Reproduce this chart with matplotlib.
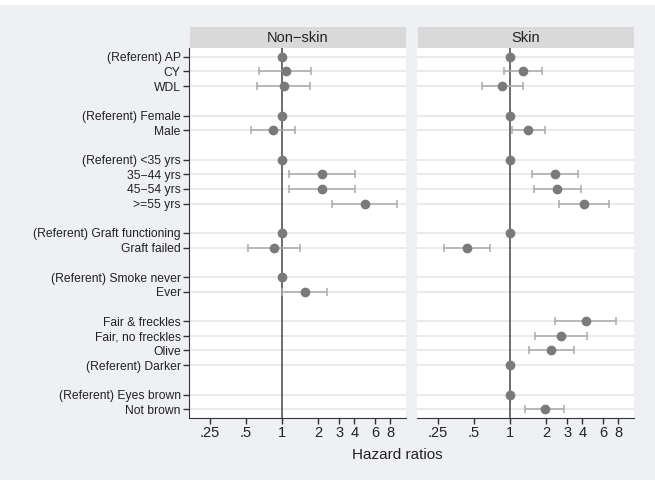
import matplotlib
matplotlib.use("Agg")
import matplotlib.pyplot as plt
import numpy as np

plt.rcParams['font.family'] = ['Liberation Sans', 'DejaVu Sans']

# row labels, top to bottom; row positions leave a gap between groups
labels = ["(Referent) AP", "CY", "WDL",
          "(Referent) Female", "Male",
          "(Referent) <35 yrs", "35\u221244 yrs", "45\u221254 yrs", ">=55 yrs",
          "(Referent) Graft functioning", "Graft failed",
          "(Referent) Smoke never", "Ever",
          "Fair & freckles", "Fair, no freckles", "Olive", "(Referent) Darker",
          "(Referent) Eyes brown", "Not brown"]
rows = [0, 1, 2, 4, 5, 7, 8, 9, 10, 12, 13, 15, 16, 18, 19, 20, 21, 23, 24]

nan = np.nan
# Non-skin: hazard ratio, lower CI, upper CI
ns_hr = [1, 1.07, 1.03, 1, 0.84, 1, 2.14, 2.16, 4.88, 1, 0.85, 1, 1.55,
         nan, nan, nan, nan, nan, nan]
ns_lo = [nan, 0.64, 0.62, nan, 0.55, nan, 1.14, 1.14, 2.63, nan, 0.52, nan, 1.0,
         nan, nan, nan, nan, nan, nan]
ns_hi = [nan, 1.75, 1.71, nan, 1.28, nan, 4.03, 4.07, 9.14, nan, 1.40, nan, 2.38,
         nan, nan, nan, nan, nan, nan]

# Skin
sk_hr = [1, 1.29, 0.86, 1, 1.41, 1, 2.35, 2.47, 4.13, 1, 0.44, nan, nan,
         4.27, 2.67, 2.21, 1, 1, 1.95]
sk_lo = [nan, 0.89, 0.58, nan, 1.03, nan, 1.51, 1.59, 2.57, nan, 0.28, nan, nan,
         2.38, 1.62, 1.43, nan, nan, 1.33]
sk_hi = [nan, 1.86, 1.27, nan, 1.95, nan, 3.70, 3.87, 6.68, nan, 0.68, nan, nan,
         7.68, 4.40, 3.38, nan, nan, 2.83]

xticks = [0.25, 0.5, 1, 2, 3, 4, 6, 8]
xticklabels = [".25", ".5", "1", "2", "3", "4", "6", "8"]

bg = "#eff0f3"
fig = plt.figure(figsize=(6.55, 4.8), dpi=100, facecolor=bg)
W, H = 655, 480

# thin white band along the top edge
fig.patches.append(plt.Rectangle((0, 1 - 4.5 / H), 1, 4.5 / H, transform=fig.transFigure,
                                 facecolor="white", edgecolor="none", zorder=0))

panels = [("Non\u2212skin", ns_hr, ns_lo, ns_hi, 189),
          ("Skin", sk_hr, sk_lo, sk_hi, 417)]

for i, (title, hr, lo, hi, x0) in enumerate(panels):
    ax = fig.add_axes([x0 / W, 1 - 418 / H, 216.5 / W, 370 / H])
    ax.set_facecolor("white")
    ax.set_xscale("log")
    ax.set_xlim(0.167, 10.7)
    ax.set_ylim(24.6, -0.6)
    for r in rows:
        ax.axhline(r, color="#e6e6e8", lw=1.2, zorder=0)
    ax.axvline(1, color="#555555", lw=1.2, zorder=1)

    hr = np.array(hr, float); lo = np.array(lo, float); hi = np.array(hi, float)
    y = np.array(rows, float)
    m = ~np.isnan(lo)
    ax.errorbar(hr[m], y[m], xerr=[hr[m] - lo[m], hi[m] - hr[m]], fmt="none",
                ecolor="#ababab", elinewidth=1.1, capsize=2.6, capthick=1.1, zorder=2)
    ax.plot(hr, y, "o", color="#7a7a7a", ms=6, mec="#7a7a7a", zorder=3, ls="none")

    ax.set_xticks(xticks)
    ax.set_xticklabels(xticklabels, fontsize=10.5, color="#222222")
    ax.xaxis.set_minor_locator(plt.NullLocator())
    ax.tick_params(axis="x", length=4, width=1, color="#333333", pad=2)

    for s in ["top", "right"]:
        ax.spines[s].set_visible(False)
    ax.spines["bottom"].set_color("#333333")
    if i == 0:
        ax.set_yticks(rows)
        ax.set_yticklabels(labels, fontsize=8.7, color="#222222")
        ax.tick_params(axis="y", length=4, width=1, color="#333333", pad=2)
        ax.spines["left"].set_color("#333333")
    else:
        ax.set_yticks([])
        ax.spines["left"].set_visible(False)

    # header strip
    hx = fig.add_axes([(x0 + 1) / W, 1 - 48 / H, 215.5 / W, 21 / H])
    hx.set_facecolor("#d9d9d9")
    hx.set_xticks([]); hx.set_yticks([])
    for s in hx.spines.values():
        s.set_visible(False)
    hx.text(0.5, 0.48, title, ha="center", va="center", fontsize=10.5,
            color="#222222", transform=hx.transAxes)

fig.text(397 / W, 1 - 455 / H, "Hazard ratios", ha="center", va="center",
         fontsize=11, color="#222222")

fig.savefig("out.png", dpi=100, facecolor=bg)
